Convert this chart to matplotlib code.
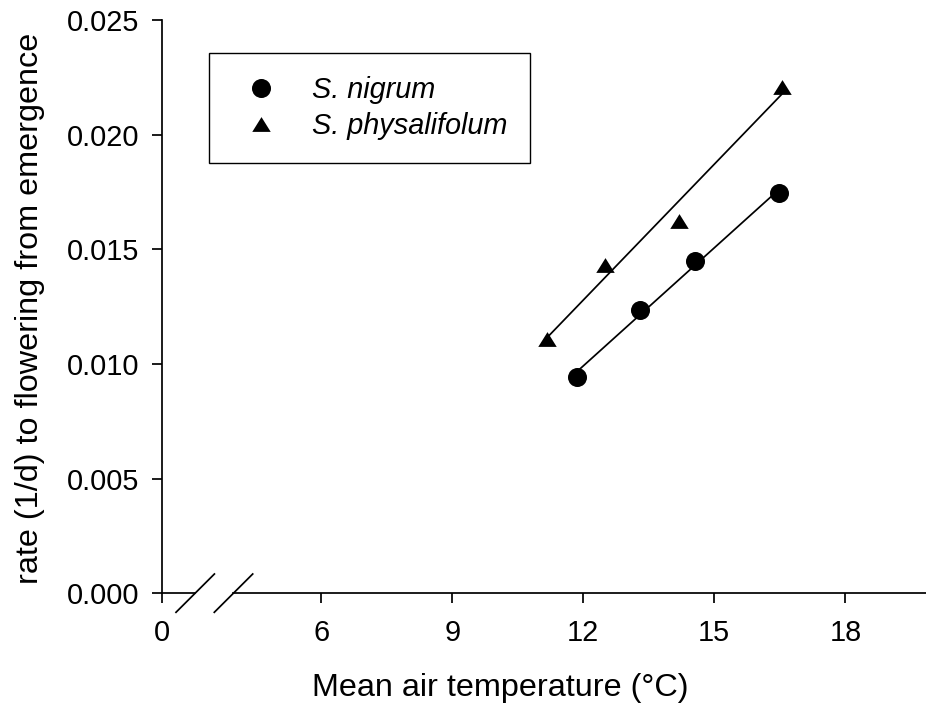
import numpy as np
import matplotlib
matplotlib.use('Agg')
import matplotlib.pyplot as plt
from matplotlib.lines import Line2D

# ---- data ----
nigrum_temp = [11.86, 13.30, 14.55, 16.49]
nigrum_rate = [0.00945, 0.01235, 0.01450, 0.01744]
phys_temp = [11.16, 12.50, 14.18, 16.54]
phys_rate = [0.01109, 0.01432, 0.01625, 0.02209]
series_names = ['S. nigrum', 'S. physalifolum']
y_ticks = [0.000, 0.005, 0.010, 0.015, 0.020, 0.025]
x_ticks_main = [6, 9, 12, 15, 18]
x_ticks_stub = [0]
x_label = 'Mean air temperature (°C)'
y_label = 'rate (1/d) to flowering from emergence'

plt.rcParams['font.family'] = ['Liberation Sans', 'DejaVu Sans']

W, H = 926, 706
fig = plt.figure(figsize=(W / 100, H / 100), dpi=100)


def fx(px):
    return px / W


def fy(py):
    return 1 - py / H


FS = 20.8
LFS = 23.3
LW = 1.25
px_per_unit = 43.67
bottom, top = fy(593.3), fy(20)

# left stub of the broken x axis (holds the y axis)
ax1 = fig.add_axes([fx(162.3), bottom, fx(195) - fx(162.3), top - bottom])
# main segment of the x axis
ax2 = fig.add_axes([fx(233.3), bottom, 1 - fx(233.3), top - bottom])

for ax in (ax1, ax2):
    ax.set_ylim(0, 0.025)
    ax.spines['top'].set_visible(False)
    ax.spines['right'].set_visible(False)
    for s in ax.spines.values():
        s.set_linewidth(LW)
    ax.tick_params(direction='out', length=7.3, width=LW, labelsize=FS, pad=11)
    ax.patch.set_alpha(0)

ax1.set_xlim(0, (195 - 162.3) / px_per_unit)
ax1.set_xticks(x_ticks_stub)
ax1.set_xticklabels([str(t) for t in x_ticks_stub])
ax1.set_yticks(y_ticks)
ax1.set_yticklabels([f'{t:.3f}' for t in y_ticks])
ax1.tick_params(axis='y', pad=9)

ax2.spines['left'].set_visible(False)
ax2.set_yticks([])
ax2.set_xlim(12 - (583.3 - 233.3) / px_per_unit, 12 + (926 - 583.3) / px_per_unit)
ax2.set_xticks(x_ticks_main)
ax2.set_xticklabels([str(t) for t in x_ticks_main])

TRI = [(-1, -0.8), (1, -0.8), (0, 0.8)]

# data points and regression lines
for xs, ys, mk, ms in ((nigrum_temp, nigrum_rate, 'o', 13.7),
                       (phys_temp, phys_rate, TRI, 13.3)):
    xs = np.asarray(xs)
    ys = np.asarray(ys)
    k, b = np.polyfit(xs, ys, 1)
    xl = np.array([xs.min(), xs.max()])
    ax2.plot(xl, k * xl + b, color='black', lw=LW, zorder=2)
    ax2.plot(xs, ys, ls='none', marker=mk, ms=ms, color='black',
             markeredgewidth=0, zorder=3, clip_on=False)

# axis break marks
for x0 in (176, 214.3):
    fig.add_artist(Line2D([fx(x0), fx(x0 + 38.4)], [fy(612.3), fy(574)],
                          transform=fig.transFigure, color='black', lw=LW))

# legend
handles = [Line2D([], [], ls='none', marker='o', ms=13.7, color='black', markeredgewidth=0),
           Line2D([], [], ls='none', marker=TRI, ms=13.3,
                  color='black', markeredgewidth=0)]
leg = fig.legend(handles, series_names, loc='upper left',
                 bbox_to_anchor=(fx(209), fy(53)), bbox_transform=fig.transFigure,
                 frameon=True, fancybox=False, edgecolor='black', framealpha=1,
                 borderaxespad=0, borderpad=0.8, labelspacing=0.28,
                 handlelength=2.0, handletextpad=0.75,
                 prop={'size': FS, 'style': 'italic'})
leg.get_frame().set_linewidth(1.0)

fig.text(fx(500), fy(688), x_label, ha='center', va='center', fontsize=LFS)
fig.text(fx(30), fy(308), y_label, ha='center', va='center', rotation=90, fontsize=LFS)

fig.savefig('out.png', dpi=100)
